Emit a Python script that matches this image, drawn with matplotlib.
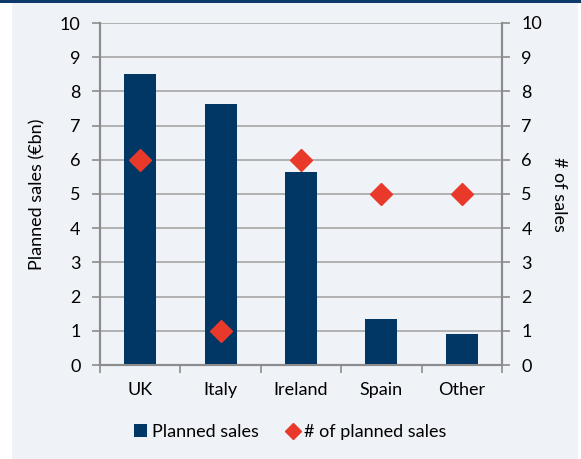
import numpy as np
import matplotlib.pyplot as plt
from matplotlib.patches import Rectangle

# Data
countries = ['UK', 'Italy', 'Ireland', 'Spain', 'Other']
planned_sales = [8.5, 7.62, 5.65, 1.35, 0.9]   # EUR bn
num_sales = [6, 1, 6, 5, 5]

plt.rcParams['font.family'] = ['Lato', 'DejaVu Sans']

bg = '#eff2f7'
navy = '#003764'
red = '#e8392b'
grey = '#8c8c8c'
fs = 13

fig = plt.figure(figsize=(5.81, 4.59), dpi=100)
fig.patch.set_facecolor('white')
fig.patches.append(Rectangle((12 / 581, 0), 566 / 581, 1, transform=fig.transFigure,
                             facecolor=bg, edgecolor='none', zorder=-10))
fig.patches.append(Rectangle((0, 1 - 3 / 459), 1, 3 / 459, transform=fig.transFigure,
                             facecolor='#0d3a6b', edgecolor='none', zorder=-9))

ax = fig.add_axes([100 / 581, 94 / 459, 402 / 581, 342 / 459])
ax.set_facecolor(bg)
x = np.arange(len(countries))
bars = ax.bar(x, planned_sales, width=0.4, color=navy, label='Planned sales', zorder=3)
ax.set_ylim(0, 10)
ax.set_xlim(-0.5, len(countries) - 0.5)
ax.set_yticks(range(0, 11))
ax.yaxis.grid(True, color='#a6a6a6', linewidth=1.2, zorder=0)
ax.set_axisbelow(True)
ax.set_ylabel('Planned sales (€bn)', fontsize=fs, labelpad=10)

ax2 = ax.twinx()
pts, = ax2.plot(x, num_sales, linestyle='none', marker='D', markersize=11,
                color=red, label='# of planned sales', zorder=4)
ax2.set_ylim(0, 10)
ax2.set_yticks(range(0, 11))
ax2.set_ylabel('# of sales', fontsize=fs, rotation=270, labelpad=18)

for a in (ax, ax2):
    a.spines['top'].set_visible(False)
    for side in ('left', 'right', 'bottom'):
        a.spines[side].set_color(grey)
        a.spines[side].set_linewidth(1.5)
    a.tick_params(axis='y', labelsize=fs, length=6, width=1.2, color=grey, pad=8)

ax.set_xticks(x)
ax.set_xticklabels(countries, fontsize=fs)
ax.tick_params(axis='x', length=0, pad=12)
ax.set_xticks(np.arange(-0.5, len(countries)), minor=True)
ax.tick_params(axis='x', which='minor', length=6, width=1.2, color=grey)

fig.legend(handles=[bars, pts], loc='center', bbox_to_anchor=(0.5, 1 - 432 / 459),
           ncol=2, frameon=False, fontsize=fs, handlelength=0.7, handletextpad=0.3,
           columnspacing=1.5, markerscale=0.75)

fig.savefig('out.png', dpi=100, facecolor=fig.get_facecolor())
